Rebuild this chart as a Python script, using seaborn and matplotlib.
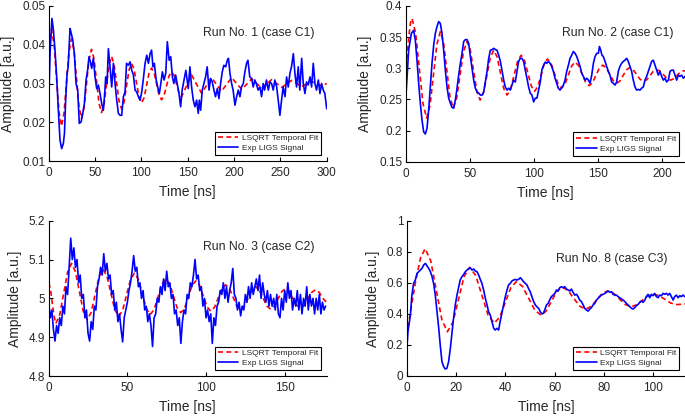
import numpy as np
import matplotlib
matplotlib.use("Agg")
import matplotlib.pyplot as plt
from matplotlib.ticker import FuncFormatter
import seaborn as sns

# ---- Run No. 1 (case C1) ----
run1_fit = [(0, 0.0373), (3, 0.0440), (5.7, 0.0403), (8.4, 0.0315), (11.1, 0.0227), (13.8, 0.0190),
            (16.5, 0.0223), (19.2, 0.0303), (21.9, 0.0382), (24.6, 0.0415), (27.3, 0.0385), (30, 0.0313),
            (32.7, 0.0240), (35.4, 0.0210), (38.1, 0.0236), (40.8, 0.0299), (43.5, 0.0362), (46.2, 0.0388),
            (48.9, 0.0364), (51.6, 0.0307), (54.3, 0.0249), (57, 0.0225), (59.7, 0.0246), (62.4, 0.0298),
            (65.1, 0.0349), (67.8, 0.0370), (70.5, 0.0350), (73.2, 0.0303), (75.9, 0.0255), (78.6, 0.0235),
            (81.3, 0.0252), (84, 0.0294), (86.7, 0.0335), (89.4, 0.0352), (92.1, 0.0337), (94.8, 0.0301),
            (97.5, 0.0265), (100.2, 0.0250), (102.9, 0.0263), (105.6, 0.0295), (108.3, 0.0327), (111, 0.0340),
            (113.7, 0.0328), (116.4, 0.0299), (119.1, 0.0270), (121.8, 0.0258), (124.5, 0.0269), (127.2, 0.0294),
            (129.9, 0.0320), (132.6, 0.0330), (135.3, 0.0321), (138, 0.0298), (140.7, 0.0275), (143.4, 0.0266),
            (148.8, 0.0294), (154.2, 0.0322), (159.6, 0.0298), (165, 0.0275), (170.4, 0.0295), (175.8, 0.0315),
            (181.2, 0.0297), (186.6, 0.0280), (192, 0.0298), (197.4, 0.0315), (202.8, 0.0300), (208.2, 0.0285),
            (213.6, 0.0298), (219, 0.0312), (224.4, 0.0300), (229.8, 0.0288), (235.2, 0.0299), (240.6, 0.0310),
            (246, 0.0300), (251.4, 0.0290), (256.8, 0.0299), (262.2, 0.0308), (267.6, 0.0300), (273, 0.0292),
            (278.4, 0.0299), (283.8, 0.0305), (289.2, 0.0300), (294.6, 0.0294), (300, 0.0300)]
run1_exp = [(0, 0.0248), (1.5, 0.038), (3.5, 0.0468), (5, 0.044), (6.8, 0.0386), (8.6, 0.0317), (10.4, 0.0231),
            (12.2, 0.0154), (14, 0.0132), (15.8, 0.0145), (17, 0.0171), (18.3, 0.0257), (19.8, 0.0326),
            (21, 0.0343), (23, 0.0442), (24, 0.0433), (26, 0.0412), (27.7, 0.0377), (29.5, 0.030),
            (31.3, 0.0283), (33, 0.0197), (35, 0.0201), (36.7, 0.0223), (38.5, 0.0248), (40.3, 0.0309),
            (42, 0.0334), (43.5, 0.0369), (45, 0.0356), (46.4, 0.0339), (48.2, 0.0365), (50, 0.0317),
            (51.8, 0.0287), (53.6, 0.0296), (55.4, 0.0274), (57.2, 0.0248), (59, 0.0231), (60.2, 0.0266),
            (61.5, 0.0317), (63, 0.030), (64.4, 0.039), (66.2, 0.0343), (68, 0.0291), (69.8, 0.0352),
            (71.6, 0.030), (73.4, 0.0257), (75.2, 0.0223), (77, 0.0218), (78.8, 0.0218), (80.6, 0.0266),
            (82.4, 0.0278), (84, 0.0352), (86, 0.0347), (87.8, 0.0356), (89.6, 0.0334), (91.4, 0.0322),
            (93.2, 0.0283), (95, 0.0278), (96.8, 0.0266), (98.6, 0.0257), (100.4, 0.0278), (102, 0.0309),
            (104, 0.0352), (105.8, 0.0373), (107.6, 0.0352), (109.4, 0.0377), (111, 0.0386), (112.5, 0.0343),
            (114, 0.0352), (116, 0.0309), (117.6, 0.0291), (119.4, 0.0274), (121, 0.030), (122.7, 0.033),
            (124.5, 0.0309), (126.3, 0.0326), (128, 0.0408), (130, 0.036), (131.7, 0.0369), (133.5, 0.0317),
            (135, 0.030), (137, 0.0322), (139, 0.0296), (140.6, 0.0274), (142.4, 0.024), (144, 0.0283),
            (146, 0.0309), (148, 0.0334), (150.6, 0.0287), (152.4, 0.0343), (154.2, 0.0291), (156, 0.0257),
            (157.8, 0.024), (159.6, 0.0257), (161.4, 0.0223), (162.5, 0.0257), (164, 0.0231), (165.7, 0.0283),
            (167.5, 0.030), (169.3, 0.0317), (171, 0.0343), (173, 0.0283), (174.7, 0.0313), (176.5, 0.0304),
            (178.3, 0.0283), (180, 0.0266), (182, 0.0287), (183.7, 0.0261), (185.5, 0.030), (187.3, 0.033),
            (189, 0.0347), (191, 0.0343), (192.7, 0.036), (194, 0.0365), (195.6, 0.0326), (197.4, 0.030),
            (199, 0.0283), (201, 0.0244), (202.8, 0.0266), (204.6, 0.0283), (206.4, 0.0266), (208, 0.0291),
            (210, 0.030), (211.7, 0.033), (213.5, 0.0352), (215, 0.036), (217, 0.0317), (219, 0.0313),
            (220.7, 0.0291), (222.5, 0.0309), (224, 0.030), (226, 0.0283), (228, 0.0291), (229.7, 0.0266),
            (231.5, 0.030), (233, 0.0283), (235, 0.0309), (237, 0.0283), (238.7, 0.0304), (240.5, 0.030),
            (242.3, 0.0283), (244, 0.0309), (246, 0.0291), (247.7, 0.0257), (249.5, 0.0218), (251.3, 0.0257),
            (253, 0.0291), (255, 0.0266), (256.7, 0.0317), (258.5, 0.0291), (260.3, 0.0326), (262, 0.0343),
            (264, 0.0377), (265.7, 0.0326), (267.5, 0.0291), (269.3, 0.0343), (271, 0.0283), (273, 0.0365),
            (274.7, 0.030), (276.5, 0.0274), (278.3, 0.0304), (280, 0.0296), (282, 0.0317), (283.7, 0.0291),
            (285.5, 0.0352), (287.3, 0.030), (289, 0.0283), (291, 0.0309), (292.7, 0.0274), (294.5, 0.030),
            (296.3, 0.0283), (298, 0.0274), (300, 0.0235)]

# ---- Run No. 2 (case C1) ----
run2_fit = [(0, 0.288), (1.2, 0.322), (2.5, 0.352), (3.7, 0.373), (4.9, 0.380), (7.75, 0.3566), (10.6, 0.300),
            (13.45, 0.2434), (16.3, 0.220), (18.98, 0.2404), (21.65, 0.2895), (24.33, 0.3386), (27, 0.359),
            (29.5, 0.341), (32, 0.2975), (34.5, 0.254), (37, 0.236), (39.7, 0.2517), (42.4, 0.2895),
            (45.1, 0.3273), (47.8, 0.343), (50.35, 0.3292), (52.9, 0.296), (55.45, 0.2628), (58, 0.249),
            (60.65, 0.2607), (63.3, 0.289), (65.95, 0.3173), (68.6, 0.329), (71.2, 0.3185), (73.8, 0.293),
            (76.4, 0.2675), (79, 0.257), (81.75, 0.2664), (84.5, 0.289), (87.25, 0.3116), (90, 0.321),
            (92.6, 0.3125), (95.25, 0.292), (97.9, 0.2715), (100.5, 0.263), (103, 0.2706), (105.5, 0.289),
            (108, 0.3074), (110.5, 0.315), (113.25, 0.3081), (116, 0.2915), (118.75, 0.2749), (121.5, 0.268),
            (124.1, 0.2742), (126.75, 0.289), (129.4, 0.3038), (132, 0.310), (134.75, 0.3044), (137.5, 0.291),
            (140.25, 0.2776), (143, 0.272), (145.6, 0.2768), (148.25, 0.2885), (150.9, 0.3002), (153.5, 0.305),
            (156.25, 0.3008), (159, 0.2905), (161.75, 0.2802), (164.5, 0.276), (167, 0.2797), (169.5, 0.2885),
            (172, 0.2973), (174.5, 0.301), (177.25, 0.2978), (180, 0.290), (182.75, 0.2822), (185.5, 0.279),
            (188, 0.2818), (190.5, 0.2885), (193, 0.2952), (195.5, 0.298), (198.25, 0.2955), (201, 0.2895),
            (203.75, 0.2835), (206.5, 0.281), (209, 0.2832), (211.5, 0.2885), (214, 0.2938), (216.5, 0.296),
            (218, 0.2955)]
run2_exp = [(0, 0.249), (2.3, 0.329), (4.4, 0.356), (6.2, 0.361), (7.5, 0.345), (8.8, 0.313), (10.1, 0.276),
            (11.4, 0.244), (12.7, 0.217), (14, 0.198), (15.3, 0.1945), (16.6, 0.2035), (17.9, 0.233),
            (19.2, 0.270), (20.5, 0.308), (21.8, 0.337), (23.1, 0.356), (24.4, 0.367), (25.7, 0.375),
            (27, 0.372), (28.3, 0.356), (29.6, 0.329), (30.9, 0.297), (32.2, 0.270), (33.5, 0.252),
            (34.8, 0.244), (36.1, 0.237), (37.4, 0.236), (38.7, 0.249), (40, 0.268), (41.3, 0.289),
            (42.6, 0.308), (43.9, 0.324), (45.2, 0.343), (46.5, 0.346), (47.8, 0.346), (49.1, 0.340),
            (50.4, 0.319), (51.7, 0.300), (53, 0.281), (54.3, 0.268), (55.6, 0.262), (56.9, 0.260),
            (58.2, 0.257), (59.5, 0.257), (60.8, 0.262), (62.1, 0.278), (63.4, 0.295), (64.7, 0.316),
            (66, 0.329), (67.4, 0.330), (68.6, 0.332), (70, 0.330), (71.2, 0.329), (72.5, 0.321),
            (73.8, 0.311), (75, 0.297), (76.4, 0.281), (77.6, 0.270), (79, 0.265), (80.2, 0.268),
            (81.5, 0.265), (82.8, 0.273), (84.1, 0.281), (85.4, 0.278), (86.7, 0.295), (88, 0.311),
            (89.3, 0.316), (90.6, 0.316), (91.9, 0.311), (93.2, 0.297), (94.5, 0.284), (95.8, 0.270),
            (97.1, 0.260), (98.4, 0.257), (99.7, 0.246), (101, 0.252), (102.3, 0.252), (103.6, 0.265),
            (104.9, 0.278), (106.2, 0.298), (107.5, 0.305), (108.8, 0.310), (109.9, 0.308), (111.2, 0.311),
            (112.5, 0.308), (113.8, 0.303), (115.1, 0.295), (116.4, 0.284), (117.7, 0.276), (119, 0.268),
            (120.3, 0.265), (121.6, 0.269), (122.9, 0.273), (124.2, 0.281), (125.5, 0.295), (126.8, 0.305),
            (128.1, 0.316), (129.4, 0.321), (130.7, 0.327), (132, 0.324), (133.3, 0.319), (134.6, 0.311),
            (135.9, 0.303), (137.2, 0.292), (138.5, 0.287), (139.8, 0.281), (141.1, 0.284), (142.4, 0.281),
            (143.7, 0.276), (145, 0.289), (146.3, 0.308), (147.6, 0.319), (148.9, 0.324), (150.2, 0.324),
            (151, 0.335), (152, 0.329), (153, 0.321), (154, 0.319), (155.4, 0.311), (156.6, 0.303),
            (158, 0.295), (159.2, 0.289), (160.5, 0.278), (161.8, 0.276), (163.1, 0.273), (164.4, 0.278),
            (165.7, 0.295), (167, 0.303), (168.3, 0.308), (169.6, 0.311), (170.9, 0.313), (172.2, 0.316),
            (173.5, 0.311), (174.8, 0.303), (176.1, 0.295), (177.4, 0.281), (178.7, 0.270), (180, 0.265),
            (181.3, 0.266), (182.6, 0.265), (183.9, 0.268), (185.2, 0.270), (186.5, 0.281), (187.8, 0.287),
            (189.1, 0.295), (190.4, 0.303), (191.7, 0.311), (193, 0.313), (194.3, 0.305), (195.6, 0.297),
            (196.9, 0.289), (198.2, 0.295), (199.5, 0.287), (200.8, 0.281), (202.1, 0.284), (203.4, 0.278),
            (204.7, 0.281), (206, 0.295), (207.3, 0.297), (208.6, 0.297), (209.9, 0.289), (211.2, 0.281),
            (212.5, 0.289), (213.8, 0.287), (215.1, 0.289), (216.4, 0.284), (217.7, 0.287)]

# ---- Run No. 3 (case C2) ----
run3_fit = [(0, 5.040), (1.1, 5.025), (2.2, 4.990), (3.4, 4.955), (4.5, 4.935), (7, 4.9577), (9.5, 5.0125),
            (12, 5.0673), (14.5, 5.090), (17, 5.0688), (19.5, 5.0175), (22, 4.9662), (24.5, 4.945),
            (27, 4.964), (29.5, 5.010), (32, 5.056), (34.5, 5.075), (37, 5.0571), (39.5, 5.014), (42, 4.9709),
            (44.5, 4.953), (47, 4.9694), (49.5, 5.009), (52, 5.0486), (54.5, 5.065), (57, 5.0493),
            (59.5, 5.0115), (62, 4.9737), (64.5, 4.958), (67, 4.9715), (69.5, 5.004), (72, 5.0365),
            (74.5, 5.050), (76.9, 5.0373), (79.25, 5.0065), (81.6, 4.9757), (84, 4.963), (86.4, 4.975),
            (88.75, 5.004), (91.1, 5.033), (93.5, 5.045), (95.9, 5.0336), (98.25, 5.006), (100.6, 4.9784),
            (103, 4.967), (105.4, 4.977), (107.75, 5.001), (110.1, 5.025), (112.5, 5.035), (114.9, 5.0255),
            (117.25, 5.0025), (119.6, 4.9795), (122, 4.970), (124.4, 4.9788), (126.75, 5.000), (129.1, 5.0212),
            (131.5, 5.030), (133.9, 5.0215), (136.25, 5.001), (138.6, 4.9805), (141, 4.972), (143.4, 4.9798),
            (145.75, 4.9985), (148.1, 5.0172), (150.5, 5.025), (152.9, 5.0177), (155.25, 5.000),
            (157.6, 4.9823), (160, 4.975), (162.4, 4.9819), (164.75, 4.9985), (167.1, 5.0151), (169.5, 5.022),
            (171.9, 5.0155), (174.25, 5.000), (176.5, 4.990)]
run3_exp_t = list(range(0, 177))
run3_exp_v = [4.99, 4.95, 4.97, 4.92, 4.89, 4.93, 4.91, 4.95, 4.93, 4.98,
              4.96, 5.03, 5.01, 5.08, 5.155, 5.10, 5.13, 5.08, 5.10, 5.04,
              5.06, 5.00, 5.01, 4.95, 4.97, 4.91, 4.89, 4.94, 4.92, 4.98,
              4.97, 5.03, 5.05, 5.08, 5.06, 5.115, 5.07, 5.09, 5.05, 5.06,
              5.01, 5.02, 4.97, 4.99, 4.94, 4.96, 4.92, 4.888, 4.95, 4.97,
              4.99, 5.02, 5.04, 5.07, 5.11, 5.07, 5.08, 5.03, 5.04, 5.00,
              5.02, 4.97, 4.98, 4.94, 4.96, 4.93, 4.876, 4.95, 4.96, 5.00,
              4.99, 5.03, 5.01, 5.05, 5.02, 5.07, 5.03, 5.04, 5.00, 5.01,
              4.96, 4.97, 4.93, 4.95, 4.884, 4.94, 4.97, 4.96, 5.01, 5.00,
              5.04, 5.03, 5.06, 5.10, 5.05, 5.06, 5.02, 5.03, 4.98, 5.00,
              4.95, 4.97, 4.94, 4.96, 4.884, 4.95, 4.93, 4.98, 4.99, 5.02,
              5.01, 5.04, 5.00, 5.03, 4.99, 5.02, 5.04, 5.077, 5.01, 5.00,
              4.97, 4.99, 4.955, 4.98, 4.97, 5.01, 4.99, 5.03, 5.00, 5.04,
              5.01, 5.03, 5.05, 5.02, 5.06, 5.00, 5.04, 5.01, 4.99, 5.02,
              4.98, 5.01, 4.98, 5.00, 4.97, 5.01, 4.96, 4.95, 5.00, 4.97,
              5.02, 4.99, 5.04, 5.00, 5.02, 4.97, 5.00, 4.98, 5.02, 4.97,
              5.01, 4.96, 5.00, 4.98, 5.03, 4.97, 5.01, 4.98, 5.00, 4.96,
              5.00, 4.97, 5.01, 4.96, 4.99, 4.97, 4.98]

# ---- Run No. 8 (case C3) ----
run8_fit = [(0, 0.26), (1.9, 0.45), (3.75, 0.62), (5.6, 0.76), (7.5, 0.82), (9.75, 0.7415), (12, 0.5525),
            (14.25, 0.3635), (16.5, 0.285), (18.75, 0.3458), (21, 0.4925), (23.25, 0.6392), (25.5, 0.700),
            (28, 0.6473), (30.5, 0.52), (33, 0.3927), (35.5, 0.340), (37.75, 0.3793), (40, 0.474),
            (42.25, 0.5687), (44.5, 0.608), (47, 0.5764), (49.5, 0.50), (52, 0.4236), (54.5, 0.392),
            (56.6, 0.4184), (58.75, 0.482), (60.9, 0.5456), (63, 0.572), (65.4, 0.5512), (67.75, 0.501),
            (70.1, 0.4508), (72.5, 0.430), (74.75, 0.4473), (77, 0.489), (79.25, 0.5307), (81.5, 0.548),
            (83.9, 0.5331), (86.25, 0.497), (88.6, 0.4609), (91, 0.446), (93.25, 0.4579), (95.5, 0.4865),
            (97.75, 0.5151), (100, 0.527), (102.4, 0.5172), (104.75, 0.4935), (107.1, 0.4698), (109.5, 0.460),
            (111.75, 0.462), (113.5, 0.466)]
run8_exp = [(0, 0.157), (0.5, 0.285), (1.5, 0.393), (2.1, 0.52), (2.8, 0.597), (3.5, 0.618), (4.2, 0.661),
            (4.9, 0.672), (5.5, 0.682), (6.2, 0.693), (6.9, 0.715), (7.6, 0.725), (8.2, 0.710), (8.9, 0.693),
            (9.6, 0.672), (10.3, 0.639), (10.9, 0.597), (11.6, 0.521), (12.3, 0.414), (13, 0.307),
            (13.6, 0.200), (14.3, 0.092), (15, 0.060), (15.6, 0.045), (16.3, 0.049), (17, 0.092),
            (17.7, 0.178), (18.4, 0.285), (19, 0.371), (19.7, 0.457), (20.4, 0.521), (21.1, 0.575),
            (21.7, 0.618), (22.4, 0.639), (23.1, 0.654), (23.8, 0.672), (24.4, 0.682), (25.1, 0.689),
            (25.8, 0.697), (26.5, 0.682), (27.2, 0.689), (27.8, 0.676), (28.5, 0.672), (29.2, 0.650),
            (29.8, 0.624), (30.5, 0.597), (31.2, 0.554), (31.9, 0.500), (32.6, 0.457), (33.2, 0.414),
            (33.9, 0.393), (34.6, 0.350), (35.3, 0.307), (35.9, 0.296), (36.6, 0.307), (37.3, 0.296),
            (37.9, 0.350), (38.6, 0.403), (39.3, 0.457), (40, 0.511), (40.7, 0.554), (41.3, 0.586),
            (42, 0.597), (42.7, 0.612), (43.4, 0.618), (44, 0.622), (44.7, 0.618), (45.4, 0.622),
            (46.1, 0.633), (46.7, 0.622), (47.4, 0.607), (48.1, 0.597), (48.8, 0.586), (49.4, 0.564),
            (50.1, 0.543), (50.8, 0.511), (51.5, 0.479), (52.2, 0.457), (52.8, 0.446), (53.5, 0.436),
            (54.2, 0.414), (54.8, 0.400), (55.4, 0.403), (56, 0.425), (56.7, 0.457), (57.4, 0.468),
            (58, 0.489), (58.7, 0.511), (59.4, 0.521), (60.1, 0.532), (60.8, 0.554), (61.4, 0.547),
            (62.1, 0.569), (62.8, 0.575), (63.5, 0.569), (64.1, 0.575), (64.8, 0.56), (65.5, 0.554),
            (66.2, 0.547), (66.8, 0.56), (67.5, 0.539), (68.2, 0.521), (68.9, 0.526), (69.5, 0.511),
            (70.2, 0.489), (70.9, 0.479), (71.6, 0.457), (72.2, 0.436), (72.9, 0.425), (73.6, 0.418),
            (74.3, 0.431), (74.9, 0.44), (75.6, 0.457), (76.3, 0.468), (77, 0.489), (77.6, 0.500),
            (78.3, 0.511), (79, 0.521), (79.7, 0.526), (80.4, 0.532), (81, 0.539), (81.7, 0.547),
            (82.4, 0.539), (83.1, 0.543), (83.7, 0.526), (84.4, 0.521), (85.1, 0.521), (85.8, 0.511),
            (86.4, 0.504), (87.1, 0.496), (87.8, 0.489), (88.5, 0.479), (89.1, 0.468), (89.8, 0.457),
            (90.5, 0.446), (91.2, 0.436), (91.8, 0.431), (92.5, 0.44), (93.2, 0.453), (93.9, 0.461),
            (94.5, 0.474), (95.2, 0.483), (95.9, 0.474), (96.6, 0.489), (97.2, 0.511), (97.9, 0.526),
            (98.6, 0.504), (99.3, 0.526), (99.9, 0.517), (100.6, 0.532), (101.3, 0.511), (102, 0.504),
            (102.6, 0.521), (103.3, 0.517), (104, 0.532), (104.7, 0.526), (105.4, 0.532), (106, 0.521),
            (106.7, 0.532), (107.4, 0.511), (108.1, 0.489), (108.7, 0.511), (109.4, 0.521), (110.1, 0.504),
            (110.8, 0.517), (111.4, 0.511), (112.1, 0.521), (112.8, 0.511)]

titles = ["Run No. 1 (case C1)", "Run No. 2 (case C1)", "Run No. 3 (case C2)", "Run No. 8 (case C3)"]
xlims = [(0, 300), (0, 217.7), (0, 176.7), (0, 112.9)]
ylims = [(0.01, 0.05), (0.15, 0.4), (4.8, 5.2), (0, 1)]
xticks = [np.arange(0, 301, 50), np.arange(0, 201, 50), np.arange(0, 151, 50), np.arange(0, 101, 20)]
yticks = [[0.01, 0.02, 0.03, 0.04, 0.05], [0.15, 0.2, 0.25, 0.3, 0.35, 0.4],
          [4.8, 4.9, 5.0, 5.1, 5.2], [0, 0.2, 0.4, 0.6, 0.8, 1.0]]
title_pos = [(0.756, 0.826), (0.758, 0.828), (0.754, 0.833), (0.735, 0.753)]

fits = [run1_fit, run2_fit, run3_fit, run8_fit]
exps = [list(zip(*run1_exp)), list(zip(*run2_exp)), [run3_exp_t, run3_exp_v], list(zip(*run8_exp))]

sns.set_style("ticks")
plt.rcParams['font.family'] = ['Liberation Sans', 'DejaVu Sans']
plt.rcParams['xtick.direction'] = 'in'
plt.rcParams['ytick.direction'] = 'in'
plt.rcParams['lines.dashed_pattern'] = (3.0, 2.0)

fig = plt.figure(figsize=(6.85, 4.16), dpi=100)
W, H = 685.0, 416.0
# left, right, top, bottom in pixels
boxes = [(48.7, 326.7, 6, 161), (405.7, 685, 6, 161.7), (48.7, 326.7, 220.7, 376), (406.7, 685, 220.7, 376)]

for i in range(4):
    l, r, t, b = boxes[i]
    ax = fig.add_axes([l / W, 1 - b / H, (r - l) / W, (b - t) / H])
    ft, fv = zip(*fits[i])
    et, ev = exps[i]
    sns.lineplot(x=list(ft), y=list(fv), ax=ax, color="red", linestyle="--", lw=1.2,
                 label="LSQRT Temporal Fit", estimator=None, sort=False)
    sns.lineplot(x=list(et), y=list(ev), ax=ax, color="blue", lw=1.2,
                 label="Exp LIGS Signal", estimator=None, sort=False)
    ax.set_xlim(xlims[i])
    ax.set_ylim(ylims[i])
    ax.set_xticks(xticks[i])
    ax.set_yticks(yticks[i])
    ax.yaxis.set_major_formatter(FuncFormatter(lambda v, p: "%g" % round(v, 4)))
    ax.tick_params(axis="both", labelsize=8.5, length=3, width=0.8, color="black")
    ax.tick_params(axis="x", pad=4.5)
    ax.tick_params(axis="y", pad=2.5)
    for s in ["top", "right"]:
        ax.spines[s].set_visible(False)
    for s in ["left", "bottom"]:
        ax.spines[s].set_color("black")
        ax.spines[s].set_linewidth(0.8)
    ax.set_xlabel("Time [ns]", fontsize=10, labelpad=4)
    ax.set_ylabel("Amplitude [a.u.]", fontsize=10, labelpad=5)
    ax.text(title_pos[i][0], title_pos[i][1], titles[i], transform=ax.transAxes,
            ha="center", va="center", fontsize=8.8)
    leg = ax.legend(loc="lower right", fontsize=6.0, frameon=True, fancybox=False,
                    edgecolor="black", framealpha=1, borderaxespad=0.7, handlelength=2.5,
                    borderpad=0.35, labelspacing=0.25, handletextpad=0.4)
    leg.get_frame().set_linewidth(0.8)

fig.savefig("out.png", dpi=100)
